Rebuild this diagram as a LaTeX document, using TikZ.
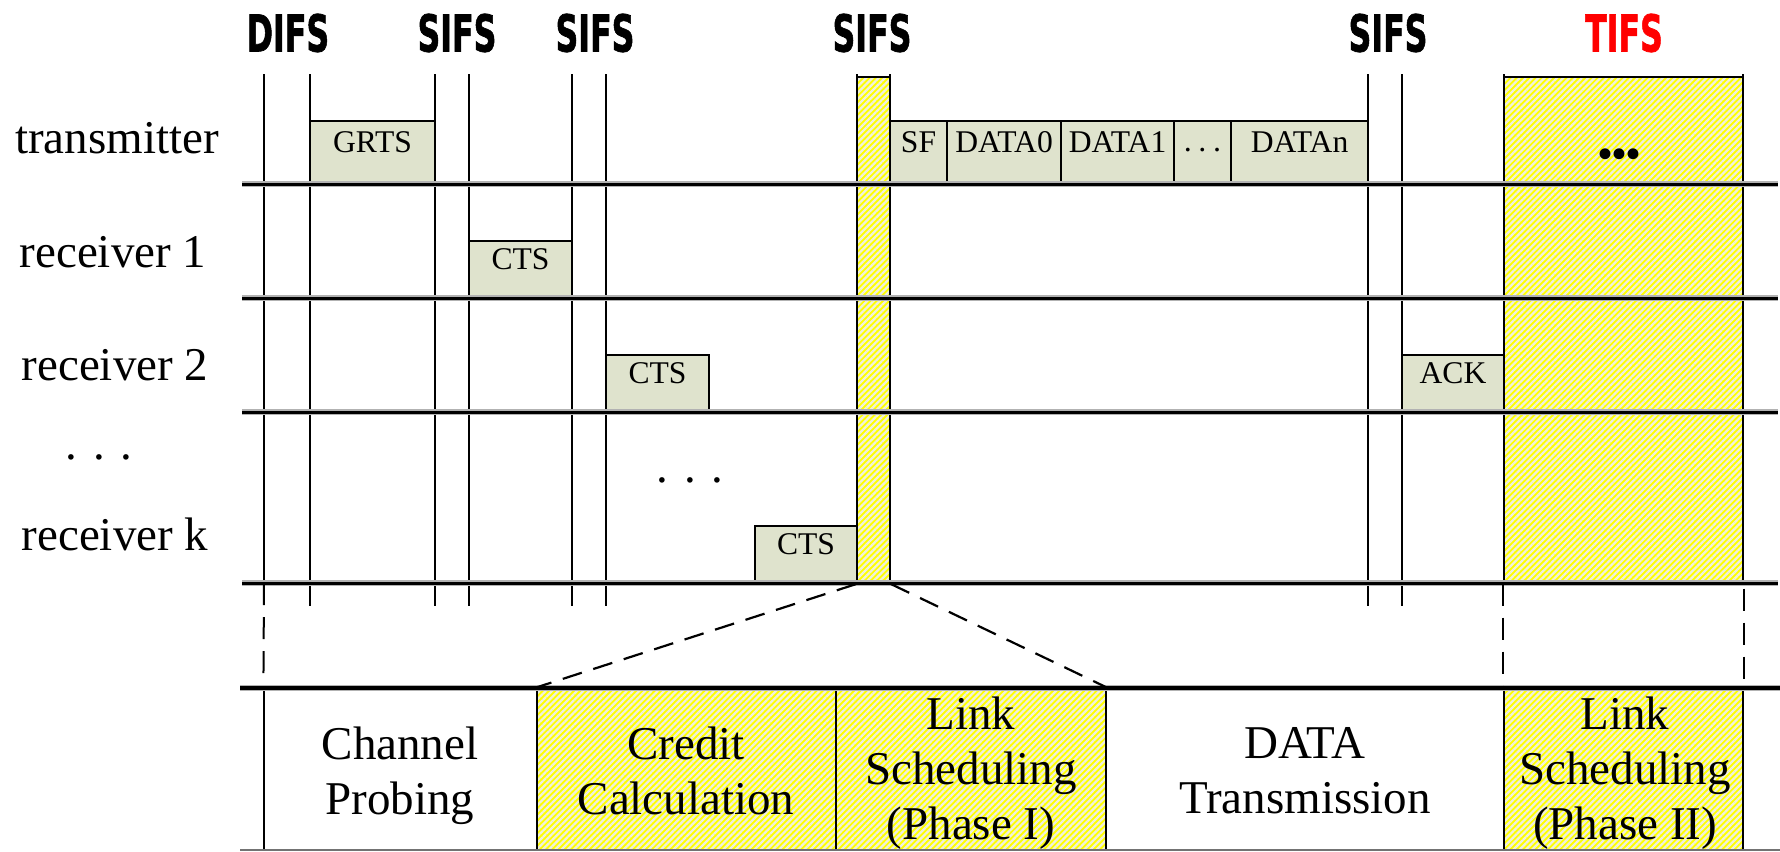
\documentclass[tikz,border=0pt]{standalone}
\usepackage{fontspec}
\setmainfont{Liberation Serif}
\newfontfamily\ifsfont[FakeBold=1.5]{DejaVu Sans Bold}
\usetikzlibrary{patterns.meta,fit}
\definecolor{msgfill}{RGB}{223,227,205}
\definecolor{hatchyellow}{RGB}{255,255,0}
\definecolor{hatchpale}{RGB}{240,240,222}
\newcommand{\ifstext}[1]{\scalebox{0.62}[1]{#1}}
\begin{document}
\begin{tikzpicture}[x=0.5pt,y=-0.5pt,
  msg/.style={draw=black,line width=0.6pt,fill=msgfill,inner sep=0pt,
    font=\fontsize{15.8}{18}\selectfont},
  hatched/.style={draw=black,line width=0.6pt,inner sep=0pt,
    preaction={fill=hatchyellow},
    pattern={Lines[angle=45,distance=2.2pt,line width=1.15pt]},pattern color=hatchpale},
  plain/.style={draw=black,line width=0.6pt,inner sep=0pt},
  ifslab/.style={inner sep=0pt,font=\ifsfont\fontsize{25.5}{30}\selectfont},
  rowlab/.style={inner sep=0pt,anchor=base,font=\fontsize{23.5}{28}\selectfont},
  phase/.style={inner sep=0pt,anchor=north,align=center,
    font=\fontsize{23.5}{27.5}\selectfont},
  grid/.style={line width=0.75pt},
  row/.style={line width=1.5pt},
  rowhalo/.style={line width=2.6pt,black!30},
  zoomline/.style={line width=1.1pt,dash pattern=on 10pt off 6pt},
  guide/.style={line width=1pt,dash pattern=on 11pt off 6pt},
]
\useasboundingbox (0,0) rectangle (1780,851);

% interframe space labels
\node[ifslab] (difs) at (288,33) {\ifstext{DIFS}};
\node[ifslab] (sifsA) at (457,33) {\ifstext{SIFS}};
\node[ifslab] (sifsB) at (595,33) {\ifstext{SIFS}};
\node[ifslab] (sifsC) at (872,33) {\ifstext{SIFS}};
\node[ifslab] (sifsD) at (1388,33) {\ifstext{SIFS}};
\node[ifslab,text=red] (tifs) at (1624,33) {\ifstext{TIFS}};

% scheduling periods
\node[hatched,fit={(857,77)(890,583)}] (sched1) {};
\node[hatched,fit={(1504,77)(1743,583)}] (sched2) {};
\node[inner sep=0pt,anchor=base,font=\bfseries\fontsize{20}{24}\selectfont]
  (more) at (1619,167) {•••};

% frames
\node[msg,fit={(310,121)(435,184)}] (grts) {GRTS};
\node[msg,fit={(469,241)(572,298)}] (cts1) {CTS};
\node[msg,fit={(606,355)(709,412)}] (cts2) {CTS};
\node[msg,fit={(755,526)(857,583)}] (ctsk) {CTS};
\node[msg,fit={(890,121)(947,184)}] (sf) {SF};
\node[msg,fit={(947,121)(1061,184)}] (data0) {DATA0};
\node[msg,fit={(1061,121)(1174,184)}] (data1) {DATA1};
\node[msg,fit={(1174,121)(1231,184)}] (datadots) {};
\node[inner sep=0pt,anchor=base,font=\fontsize{15.8}{18}\selectfont]
  (datadotsT) at (1202.5,160) {·\kern2pt·\kern2pt·};
\node[msg,fit={(1231,121)(1368,184)}] (datan) {DATAn};
\node[msg,fit={(1402,355)(1504,412)}] (ack) {ACK};

% time marks
\foreach \x in {310,435,469,572,606,1368,1402}
  \draw[grid] (\x,74) -- (\x,606);
\draw[grid] (264,74) -- (264,583);
\foreach \x in {857,890,1504,1743}
  \draw[grid] (\x,74) -- (\x,583);

% station rows
\foreach \y in {184,298,412,583} {
  \draw[rowhalo] (242,\y) -- (1778,\y);
  \draw[row] (242,\y) -- (1778,\y);
}

% row labels
\node[rowlab] (tx) at (117,153) {transmitter};
\node[rowlab] (rx1) at (113,267) {receiver 1};
\node[rowlab] (rx2) at (115,380) {receiver 2};
\node[rowlab] (rxdots) at (99,459.5) {. . .};
\node[rowlab] (rxk) at (115,550) {receiver k};
\node[rowlab] (ctsdots) at (690,482.5) {. . .};

% phase band
\node[plain,fit={(264,688)(537,850)}] (probe) {};
\node[hatched,fit={(537,688)(836,850)}] (credit) {};
\node[hatched,fit={(836,688)(1106,850)}] (link1) {};
\node[plain,fit={(1106,688)(1504,850)}] (datatx) {};
\node[hatched,fit={(1504,688)(1743,850)}] (link2) {};
\draw[black!30,line width=3.2pt] (240,688) -- (1780,688);
\draw[line width=2.2pt] (240,688) -- (1780,688);
\draw[line width=0.6pt,black!55] (240,850) -- (1780,850);

\node[phase] (probeT) at (400,726) {Channel\\Probing};
\node[phase] (creditT) at (686,726) {Credit\\Calculation};
\node[phase] (link1T) at (971,696) {Link\\Scheduling\\(Phase I)};
\node[phase] (datatxT) at (1305,727) {DATA\\Transmission};
\node[phase] (link2T) at (1625,696) {Link\\Scheduling\\(Phase II)};

% guides from the time line to the phases
\coordinate (g0) at (264,583);
\draw[guide,shorten >=5pt] (g0) -- (probe.north west);
\draw[guide] (sched2.south west) -- (link2.north west);
\draw[guide,shorten <=2.5pt,shorten >=3pt] (sched2.south east) -- (link2.north east);
\draw[zoomline] (sched1.south west) -- (credit.north west);
\draw[zoomline] (sched1.south east) -- (link1.north east);
\end{tikzpicture}
\end{document}
